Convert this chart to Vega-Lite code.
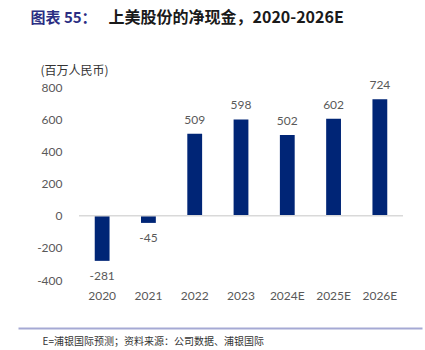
{
  "$schema": "https://vega.github.io/schema/vega-lite/v6.json",
  "width": 324,
  "height": 193,
  "autosize": {"type": "none"},
  "padding": {"left": 79, "top": 87, "right": 22, "bottom": 70},
  "background": "white",
  "config": {
    "view": {"stroke": null},
    "locale": {"number": {"decimal": ".", "thousands": ",", "grouping": [3], "currency": ["", ""], "minus": "-"}},
    "axisY": {"grid": false, "domain": false, "ticks": false, "labelOverlap": false, "labelFlush": false,
      "labelPadding": 17, "labelFont": "Lato", "labelFontSize": 12, "labelColor": "#595959",
      "titleX": -39, "titleY": -17, "titleAngle": 0, "titleAlign": "left", "titleBaseline": "middle", "titleAnchor": "start",
      "titleFont": "Noto Sans CJK SC", "titleFontSize": 12, "titleFontWeight": "normal", "titleColor": "#333333"}
  },
  "data": {"values": [
    {"year": "2020", "value": -281},
    {"year": "2021", "value": -45},
    {"year": "2022", "value": 509},
    {"year": "2023", "value": 598},
    {"year": "2024E", "value": 502},
    {"year": "2025E", "value": 602},
    {"year": "2026E", "value": 724}
  ]},
  "resolve": {"scale": {"x": "independent"}, "axis": {"x": "independent"}},
  "layer": [
    {
      "layer": [
        {
          "mark": {"type": "bar", "color": "#002576"},
          "encoding": {
            "x": {"field": "year", "type": "nominal", "sort": null,
              "scale": {"paddingInner": 0.68, "paddingOuter": 0.34},
              "axis": {"orient": "bottom", "domain": false, "ticks": false, "grid": false, "labelAngle": 0,
                "labelPadding": 10, "labelFont": "Lato", "labelFontSize": 12, "labelColor": "#595959",
                "title": "上美股份的净现金，2020-2026E", "titleX": 29, "titleY": -263,
                "titleAlign": "left", "titleBaseline": "middle", "titleAnchor": "start",
                "titleFont": "Noto Sans CJK SC", "titleFontSize": 16, "titleFontWeight": "bold", "titleColor": "#1a1a1a"}},
            "y": {"field": "value", "type": "quantitative",
              "scale": {"domain": [-400, 800], "nice": false, "zero": false},
              "axis": {"values": [-400, -200, 0, 200, 400, 600, 800], "title": "(百万人民币)"}}
          }
        },
        {
          "data": {"values": [{"v": 0}]},
          "mark": {"type": "rule", "color": "#D9D9D9", "strokeWidth": 1.5},
          "encoding": {"y": {"field": "v", "type": "quantitative",
            "axis": {"values": [-400, -200, 0, 200, 400, 600, 800], "title": "(百万人民币)"}}}
        },
        {
          "transform": [{"filter": "datum.value >= 0"}],
          "mark": {"type": "text", "baseline": "bottom", "dy": -7, "font": "Lato", "fontSize": 12, "color": "#595959"},
          "encoding": {
            "x": {"field": "year", "type": "nominal", "sort": null},
            "y": {"field": "value", "type": "quantitative",
              "axis": {"values": [-400, -200, 0, 200, 400, 600, 800], "title": "(百万人民币)"}},
            "text": {"field": "value", "type": "quantitative"}
          }
        },
        {
          "transform": [{"filter": "datum.value < 0"}],
          "mark": {"type": "text", "baseline": "top", "dy": 10, "font": "Lato", "fontSize": 12, "color": "#595959"},
          "encoding": {
            "x": {"field": "year", "type": "nominal", "sort": null},
            "y": {"field": "value", "type": "quantitative",
              "axis": {"values": [-400, -200, 0, 200, 400, 600, 800], "title": "(百万人民币)"}},
            "text": {"field": "value", "type": "quantitative"}
          }
        }
      ]
    },
    {
      "mark": {"type": "point", "opacity": 0},
      "encoding": {
        "x": {"field": "year", "type": "nominal", "sort": null,
          "scale": {"range": [-61, 343]},
          "axis": {"orient": "bottom", "offset": 48, "domain": true, "domainColor": "#A5A9D4", "domainWidth": 2,
            "labels": false, "ticks": false, "grid": false,
            "title": "E=浦银国际预测；资料来源：公司数据、浦银国际", "titleX": -37, "titleY": 13,
            "titleAlign": "left", "titleBaseline": "middle", "titleAnchor": "start",
            "titleFont": "Noto Sans CJK SC", "titleFontSize": 10, "titleFontWeight": "normal", "titleColor": "#333333"}}
      }
    },
    {
      "mark": {"type": "point", "opacity": 0},
      "encoding": {
        "x": {"field": "year", "type": "nominal", "sort": null,
          "axis": {"orient": "top", "domain": false, "labels": false, "ticks": false, "grid": false,
            "title": "图表 55：", "titleX": -49, "titleY": -70,
            "titleAlign": "left", "titleBaseline": "middle", "titleAnchor": "start",
            "titleFont": "Noto Sans CJK SC", "titleFontSize": 15, "titleFontWeight": "bold", "titleColor": "#2B2E83"}}
      }
    }
  ]
}
